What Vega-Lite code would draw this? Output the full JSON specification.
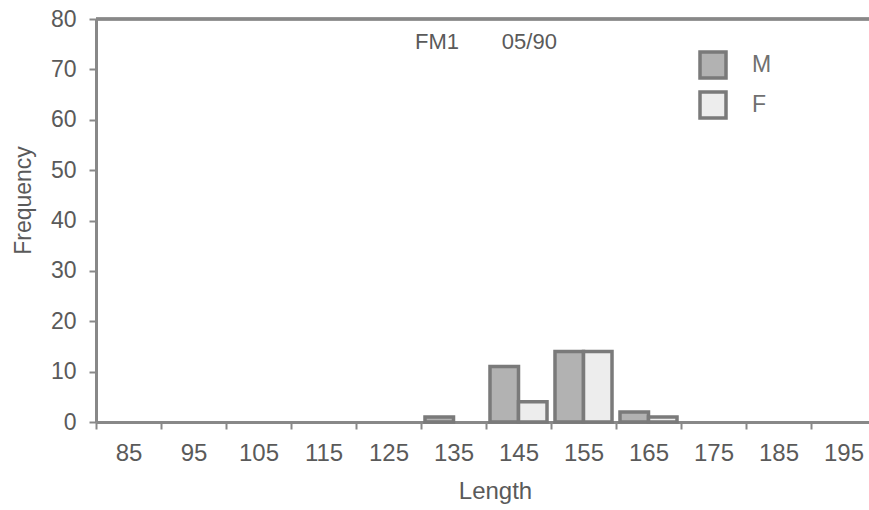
{
  "$schema": "https://vega.github.io/schema/vega-lite/v6.json",
  "width": 773,
  "height": 403,
  "autosize": {"type": "none"},
  "padding": {"left": 96, "top": 19, "right": 0, "bottom": 88},
  "background": "white",
  "config": {
    "view": {"stroke": null},
    "font": "Liberation Sans",
    "legend": {"padding": 0}
  },
  "data": {
    "values": [
      {"length": 135, "sex": "M", "count": 1},
      {"length": 145, "sex": "M", "count": 11},
      {"length": 145, "sex": "F", "count": 4},
      {"length": 155, "sex": "M", "count": 14},
      {"length": 155, "sex": "F", "count": 14},
      {"length": 165, "sex": "M", "count": 2},
      {"length": 165, "sex": "F", "count": 1}
    ]
  },
  "layer": [
    {
      "mark": {"type": "bar", "stroke": "#7a7a7a", "strokeWidth": 3.5},
      "encoding": {
        "x": {
          "field": "length",
          "type": "ordinal",
          "scale": {
            "domain": [85, 95, 105, 115, 125, 135, 145, 155, 165, 175, 185, 195],
            "range": [0, 780],
            "paddingInner": 0,
            "paddingOuter": 0
          },
          "axis": {
            "title": "Length",
            "titleFontSize": 24,
            "titleFontWeight": "normal",
            "titleColor": "#5a5a5a",
            "titleX": 399,
            "titleY": 76,
            "titleBaseline": "alphabetic",
            "titleAlign": "center",
            "labelAngle": 0,
            "labelFontSize": 24,
            "labelColor": "#5a5a5a",
            "labelPadding": 12,
            "tickBand": "extent",
            "tickSize": 7,
            "tickWidth": 2,
            "tickColor": "#888888",
            "domainColor": "#888888",
            "domainWidth": 3,
            "grid": false
          }
        },
        "xOffset": {
          "field": "sex",
          "scale": {"domain": ["M", "F"], "paddingInner": 0, "paddingOuter": 0.14}
        },
        "y": {
          "field": "count",
          "type": "quantitative",
          "scale": {"domain": [0, 80], "nice": false},
          "axis": {
            "values": [0, 5, 10, 15, 20, 25, 30, 35, 40, 45, 50, 55, 60, 65, 70, 75, 80],
            "labelExpr": "datum.value % 10 === 0 ? datum.label : ''",
            "tickSize": {"condition": {"test": "datum.value % 10 === 0", "value": 7}, "value": 4},
            "tickWidth": 2,
            "tickColor": "#888888",
            "domainColor": "#888888",
            "domainWidth": 3,
            "labelFontSize": 23,
            "labelColor": "#5a5a5a",
            "labelPadding": 13,
            "title": "Frequency",
            "titleFontSize": 23,
            "titleFontWeight": "normal",
            "titleColor": "#5a5a5a",
            "titleX": -73,
            "titleY": 181,
            "titleAlign": "center",
            "titleBaseline": "middle",
            "grid": false
          }
        },
        "fill": {
          "field": "sex",
          "type": "nominal",
          "scale": {"domain": ["M", "F"], "range": ["#b2b2b2", "#ededed"]},
          "legend": {
            "orient": "none",
            "legendX": 602,
            "legendY": 31,
            "title": null,
            "symbolType": "square",
            "symbolSize": 676,
            "symbolStrokeWidth": 3.5,
            "symbolStrokeColor": "#7a7a7a",
            "labelFont": "Liberation Sans",
            "labelFontSize": 23,
            "labelColor": "#707070",
            "labelOffset": 24,
            "rowPadding": 0
          }
        }
      }
    },
    {
      "mark": {"type": "rule", "color": "#888888", "strokeWidth": 2.5},
      "encoding": {"y": {"datum": 80, "type": "quantitative"}}
    },
    {
      "data": {"values": [{"label": "FM1\u00a0\u00a0\u00a0\u00a0\u00a0\u00a0\u00a005/90"}]},
      "mark": {"type": "text", "align": "center", "baseline": "alphabetic", "fontSize": 22, "color": "#5a5a5a"},
      "encoding": {
        "x": {"datum": 145, "type": "ordinal", "bandPosition": 0},
        "y": {"datum": 74, "type": "quantitative"},
        "text": {"field": "label"}
      }
    }
  ]
}
